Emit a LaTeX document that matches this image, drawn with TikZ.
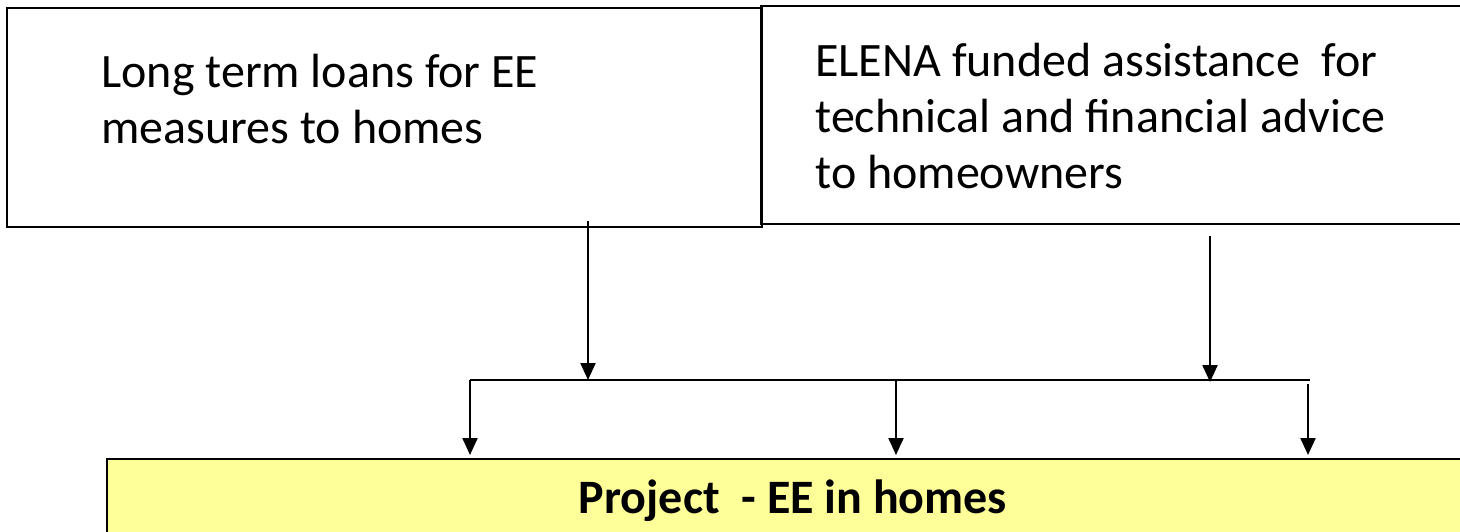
\documentclass[tikz,border=0pt]{standalone}
\usepackage{fontspec}
\setmainfont{Carlito}
\usepackage{xcolor}
\usepackage{tikz}
\usetikzlibrary{arrows.meta}

\definecolor{projyellow}{RGB}{255,255,153}

\begin{document}
\begin{tikzpicture}[x=0.5pt, y=-0.5pt,
    topbox/.style = {draw, line width=1pt, inner sep=0pt, outer sep=0pt},
    boxtext/.style = {align=left, anchor=base west, inner sep=0pt,
                      font=\fontsize{24}{28}\selectfont},
    arr/.style = {line width=1.1pt, -{Triangle[width=7.5pt, length=8.5pt]}}]
                    \useasboundingbox (0, 0) rectangle (1460, 531);

                    \node[topbox, minimum width=377.5pt, minimum height=109.5pt] (loans) at (384.5, 117.5) {};
                    \node[topbox, minimum width=357pt, minimum height=109pt] (advice) at (1118, 115) {};
                    \node[boxtext] (loanstext) at (101, 143) {Long term loans for EE\\measures to homes};
                    \node[boxtext] (advicetext) at (815, 188) {ELENA funded assistance~ for\\technical and financial advice\\to homeowners};

                    \node[draw, line width=1pt, fill = projyellow, inner sep=0pt,
                        minimum width=686pt, minimum height=43pt] (project) at (793, 502) {};
                    \node[anchor=base, inner sep=0pt, font=\fontsize{24}{28}\selectfont\bfseries] (projecttext)
                        at (793, 513) {Project~ - EE in homes};

                    \coordinate (loansout) at (588, 221);
                    \coordinate (adviceout) at (1210, 236);
                    \coordinate (busleft) at (470, 380);
                    \coordinate (busmid) at (896, 380);
                    \coordinate (busright) at (1310, 380);
                    \coordinate (busdrop) at (1308, 384);

                    \draw[line width=1pt] (busleft) -- (busright);
                    \draw[arr] (loansout) -- (loansout |- busleft);
                    \draw[arr] (adviceout) -- ([yshift=-1pt] adviceout |- busleft);
                    \draw[arr, shorten >=1.5pt] (busleft) -- (busleft |- project.north);
                    \draw[arr, shorten >=1.5pt] (busmid) -- (busmid |- project.north);
                    \draw[arr, shorten >=1.5pt] (busdrop) -- (busdrop |- project.north);
\end{tikzpicture}
\end{document}
